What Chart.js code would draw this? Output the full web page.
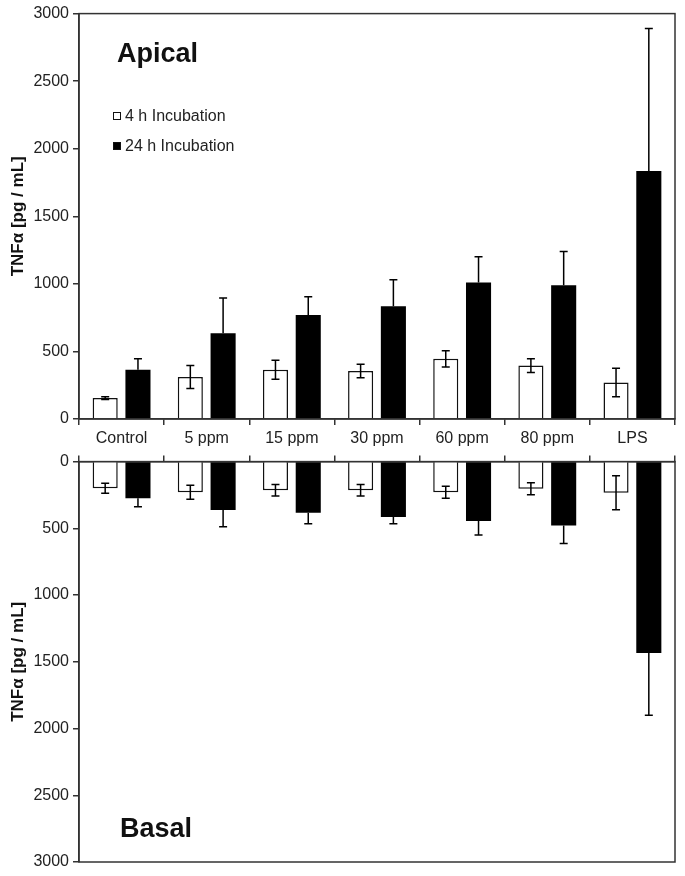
<!DOCTYPE html>
<html>
<head>
<meta charset="utf-8">
<script src="https://cdn.jsdelivr.net/npm/chart.js@4.4.0/dist/chart.umd.min.js"></script>
<style>
  html, body { margin: 0; padding: 0; background: #fff; }
  #wrap { position: relative; width: 685px; height: 876px; }
  canvas { position: absolute; left: 0; }
  #apical { top: 0; }
  #basal { top: 448px; }
</style>
</head>
<body>
<div id="wrap">
  <canvas id="apical" width="685" height="448"></canvas>
  <canvas id="basal" width="685" height="428"></canvas>
</div>
<script>
const categories = ['Control', '5 ppm', '15 ppm', '30 ppm', '60 ppm', '80 ppm', 'LPS'];
const seriesLabels = ['4 h Incubation', '24 h Incubation'];
const yTicks = [0, 500, 1000, 1500, 2000, 2500, 3000];

const apical4h = [155, 310, 365, 355, 445, 395, 270];
const apical4hErr = [10, 85, 70, 50, 60, 50, 105];
const apical24h = [365, 635, 770, 835, 1010, 990, 1835];
const apical24hErr = [80, 260, 135, 195, 190, 250, 1055];

const basal4h = [200, 230, 215, 215, 230, 203, 233];
const basal4hErr = [37, 53, 43, 43, 45, 45, 127];
const basal24h = [275, 363, 383, 415, 445, 478, 1435];
const basal24hErr = [63, 125, 82, 50, 105, 135, 465];

const FONT = "'Liberation Sans', Arial, sans-serif";
const AXIS = '#333';

// error bars drawn from each dataset's err array, through the y scale
const errorBars = {
  id: 'errorBars',
  afterDatasetsDraw(chart) {
    const ctx = chart.ctx;
    const y = chart.scales.y;
    ctx.save();
    ctx.strokeStyle = '#000';
    ctx.lineWidth = 1.5;
    chart.data.datasets.forEach((ds, di) => {
      const meta = chart.getDatasetMeta(di);
      meta.data.forEach((bar, i) => {
        const v = ds.data[i], e = ds.err[i];
        const hi = y.getPixelForValue(v + e);
        // on the filled bars only the outer half shows
        const lo = ds.solid ? y.getPixelForValue(v) : y.getPixelForValue(v - e);
        ctx.beginPath();
        ctx.moveTo(bar.x, hi); ctx.lineTo(bar.x, lo);
        ctx.moveTo(bar.x - 4, hi); ctx.lineTo(bar.x + 4, hi);
        if (!ds.solid) { ctx.moveTo(bar.x - 4, lo); ctx.lineTo(bar.x + 4, lo); }
        ctx.stroke();
      });
    });
    ctx.restore();
  }
};

// closed frame round the plot area, panel name and legend
const panelText = {
  id: 'panelText',
  afterDraw(chart, args, opts) {
    const ctx = chart.ctx;
    const a = chart.chartArea;
    ctx.save();
    ctx.strokeStyle = AXIS;
    ctx.lineWidth = 1.5;
    ctx.strokeRect(a.left, a.top, a.right - a.left, a.bottom - a.top);

    ctx.fillStyle = '#111';
    ctx.font = 'bold 27px ' + FONT;
    ctx.textBaseline = 'alphabetic';
    ctx.fillText(opts.text, opts.x, opts.y);

    if (opts.legend) {
      ctx.font = '16px ' + FONT;
      ctx.textBaseline = 'middle';
      chart.data.datasets.forEach((ds, i) => {
        const ly = 116 + i * 30;
        ctx.fillStyle = ds.backgroundColor;
        ctx.fillRect(113, ly - 4, 8, 8);
        ctx.strokeStyle = '#111';
        ctx.lineWidth = 1;
        ctx.strokeRect(113.5, ly - 3.5, 7, 7);
        ctx.fillStyle = '#222';
        ctx.fillText(ds.label, 125, ly + 1);
      });
    }
    ctx.restore();
  }
};

function makeChart(id, d4, e4, d24, e24, basal) {
  return new Chart(document.getElementById(id), {
    type: 'bar',
    data: {
      labels: categories,
      datasets: [
        { label: seriesLabels[0], data: d4, err: e4, solid: false, backgroundColor: '#fff',
          borderColor: '#111', borderWidth: 1.5 },
        { label: seriesLabels[1], data: d24, err: e24, solid: true, backgroundColor: '#000',
          borderColor: '#000', borderWidth: 0 }
      ]
    },
    options: {
      responsive: false,
      animation: false,
      categoryPercentage: 0.77,
      barPercentage: 0.765,
      layout: { padding: basal ? { left: 0, right: 10, top: 0, bottom: 14 }
                               : { left: 0, right: 10, top: 13, bottom: 0 } },
      plugins: {
        legend: { display: false },
        tooltip: { enabled: false },
        panelText: basal ? { text: 'Basal', x: 120, y: 389, legend: false }
                         : { text: 'Apical', x: 117, y: 62, legend: true }
      },
      scales: {
        x: {
          position: basal ? 'top' : 'bottom',
          grid: { offset: true, drawOnChartArea: false, tickLength: 6, color: AXIS, lineWidth: 1.5 },
          border: { color: AXIS, width: 1.5 },
          ticks: {
            display: !basal, color: '#222', font: { family: FONT, size: 16 },
            padding: 4, maxRotation: 0, autoSkip: false
          },
          afterFit: s => { s.height = basal ? 10 : 29; }
        },
        y: {
          min: 0, max: 3000, reverse: basal,
          afterBuildTicks: s => { s.ticks = yTicks.map(v => ({ value: v })); },
          grid: { drawOnChartArea: false, tickLength: 6, color: AXIS, lineWidth: 1.5 },
          border: { color: AXIS, width: 1.5 },
          ticks: { color: '#222', font: { family: FONT, size: 16 }, padding: 4,
                   callback: v => String(v) },
          title: {
            display: true, text: 'TNFα [pg / mL]', color: '#111',
            font: { family: FONT, size: 17, weight: 'bold' }, padding: { top: 8, bottom: 0 }
          },
          afterFit: s => { s.width = 79; }
        }
      }
    },
    plugins: [errorBars, panelText]
  });
}

makeChart('apical', apical4h, apical4hErr, apical24h, apical24hErr, false);
makeChart('basal', basal4h, basal4hErr, basal24h, basal24hErr, true);
</script>
</body>
</html>
